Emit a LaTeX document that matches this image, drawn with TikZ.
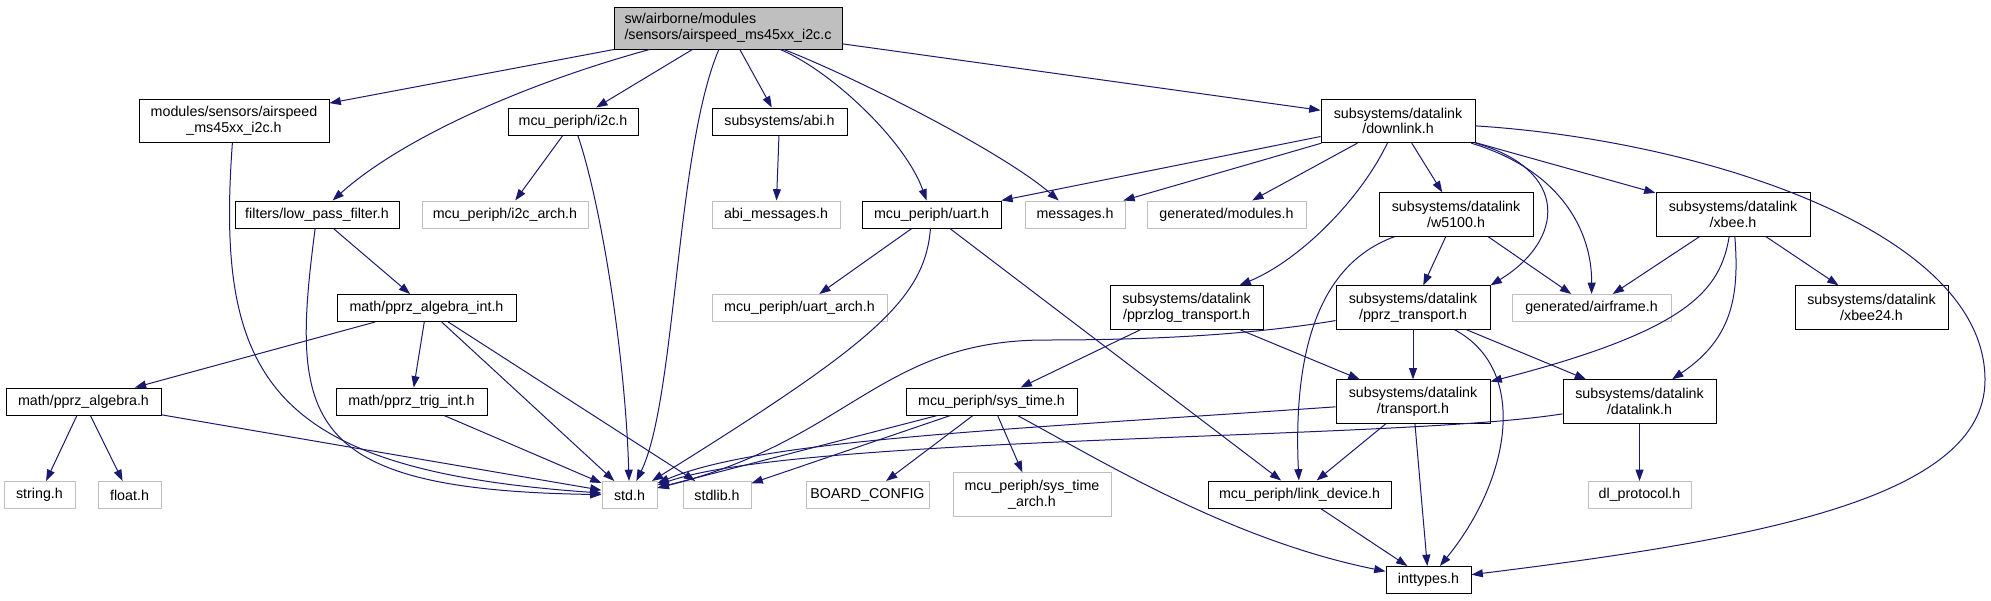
\documentclass[tikz,border=0pt]{standalone}
\usepackage{fontspec}
\setmainfont{Liberation Sans}
\usepackage{tikz}
\usetikzlibrary{arrows.meta}
\definecolor{edgeBlue}{HTML}{191970}
\definecolor{extGray}{HTML}{BFBFBF}
\tikzset{
    fileBox/.style={draw=black, fill=white, line width=0.75pt, inner sep=1pt,
                    minimum height=20.25pt, align=center,
                    font=\fontsize{10.7}{11.8}\selectfont},
    twoLine/.style={minimum height=32.5pt},
    extBox/.style={fileBox, draw=extGray},
    rootBox/.style={fileBox, fill=extGray, align=left, minimum height=31.5pt},
    incl/.style={-{Triangle[length=8.5pt,width=6pt]}, draw=edgeBlue,
                 line width=0.75pt},
}

\begin{document}
\begin{tikzpicture}[x=0.75pt, y=-0.75pt]
\useasboundingbox (0,0) rectangle (1991,600);

% =======================  top rows  =======================
\node[rootBox, minimum width=171pt] (srcC) at (728,28)
     {sw/airborne/modules\\/sensors/airspeed\_ms45xx\_i2c.c};

\node[fileBox, twoLine, minimum width=142.5pt] (msH) at (234,121)
     {modules/sensors/airspeed\\\_ms45xx\_i2c.h};
\node[fileBox, minimum width=97.5pt] (i2cH) at (573,121.5) {mcu\_periph/i2c.h};
\node[fileBox, minimum width=101.25pt] (abiH) at (779.5,121.5) {subsystems/abi.h};
\node[fileBox, twoLine, minimum width=115.5pt] (downlinkH) at (1398,121)
     {subsystems/datalink\\/downlink.h};

\node[fileBox, minimum width=123pt] (lpfH) at (317,214.5) {filters/low\_pass\_filter.h};
\node[extBox, minimum width=124.5pt] (i2cArch) at (505,214.5) {mcu\_periph/i2c\_arch.h};
\node[extBox, minimum width=96pt] (abiMsg) at (776,214.5) {abi\_messages.h};
\node[fileBox, minimum width=104.25pt] (uartH) at (931.5,214.5) {mcu\_periph/uart.h};
\node[extBox, minimum width=75pt] (messagesH) at (1075,214.5) {messages.h};
\node[extBox, minimum width=119.25pt] (modulesH) at (1226.5,214.5) {generated/modules.h};
\node[fileBox, twoLine, minimum width=115.5pt] (w5100H) at (1456,214.5)
     {subsystems/datalink\\/w5100.h};
\node[fileBox, twoLine, minimum width=115.5pt] (xbeeH) at (1733,214.5)
     {subsystems/datalink\\/xbee.h};

% =======================  middle rows  =======================
\node[fileBox, minimum width=134.25pt] (algIntH) at (426.5,308) {math/pprz\_algebra\_int.h};
\node[extBox, minimum width=131.25pt] (uartArch) at (799.5,308) {mcu\_periph/uart\_arch.h};
\node[fileBox, twoLine, minimum width=114.75pt] (pprzlogH) at (1186.5,307.5)
     {subsystems/datalink\\/pprzlog\_transport.h};
\node[fileBox, twoLine, minimum width=115.5pt] (pprzTrH) at (1413,307.5)
     {subsystems/datalink\\/pprz\_transport.h};
\node[extBox, minimum width=119.25pt] (airframeH) at (1591.5,308) {generated/airframe.h};
\node[fileBox, twoLine, minimum width=114.75pt] (xbee24H) at (1871.5,307.5)
     {subsystems/datalink\\/xbee24.h};

\node[fileBox, minimum width=116.25pt] (algH) at (83.5,401.5) {math/pprz\_algebra.h};
\node[fileBox, minimum width=113.25pt] (trigIntH) at (411.5,401.5) {math/pprz\_trig\_int.h};
\node[fileBox, minimum width=128.25pt] (sysTimeH) at (991.5,401.5) {mcu\_periph/sys\_time.h};
\node[fileBox, twoLine, minimum width=115.5pt] (transportH) at (1413,401.5)
     {subsystems/datalink\\/transport.h};
\node[fileBox, twoLine, minimum width=114.75pt] (datalinkH) at (1639.5,401.5)
     {subsystems/datalink\\/datalink.h};

% =======================  bottom rows  =======================
\node[extBox, minimum width=53.25pt] (stringH) at (39.5,495) {string.h};
\node[extBox, minimum width=47.25pt] (floatH) at (129.5,495) {float.h};
\node[extBox, minimum width=41.25pt] (stdH) at (629.5,495) {std.h};
\node[extBox, minimum width=51pt] (stdlibH) at (717,495) {stdlib.h};
\node[extBox, minimum width=92.25pt] (boardCfg) at (867.5,495) {BOARD\_CONFIG};
\node[extBox, twoLine, minimum width=118.5pt] (sysTimeArch) at (1032,494.5)
     {mcu\_periph/sys\_time\\\_arch.h};
\node[fileBox, minimum width=137.25pt] (linkDevH) at (1299.5,494.5) {mcu\_periph/link\_device.h};
\node[extBox, minimum width=77.25pt] (dlProtoH) at (1639.5,495) {dl\_protocol.h};
\node[fileBox, minimum width=63.75pt] (inttypesH) at (1428.5,580) {inttypes.h};

% =======================  includes  =======================
% source file
\draw[incl] (srcC) -- (msH);
\draw[incl] (srcC) .. controls (520,85) and (400,140) .. (lpfH);
\draw[incl] (srcC) -- (i2cH);
\draw[incl] (srcC) .. controls (676,150) and (676,400) .. (stdH);
\draw[incl] (srcC) -- (abiH);
\draw[incl] (srcC) .. controls (830,70) and (905,140) .. (uartH);
\draw[incl] (srcC) .. controls (850,75) and (1000,150) .. (messagesH);
\draw[incl] (srcC) -- (downlinkH);

% sensor header, filter, i2c, abi
\draw[incl] (msH) .. controls (215,380) and (270,470) .. (stdH);
\draw[incl] (i2cH) -- (i2cArch);
\draw[incl] (i2cH) .. controls (600,200) and (625,350) .. (stdH);
\draw[incl] (lpfH) -- (algIntH);
\draw[incl] (lpfH) .. controls (290,420) and (300,490) .. (stdH);
\draw[incl] (abiH) -- (abiMsg);

% downlink
\draw[incl] (downlinkH) -- (uartH);
\draw[incl] (downlinkH) -- (messagesH);
\draw[incl] (downlinkH) -- (modulesH);
\draw[incl] (downlinkH) .. controls (1360,200) and (1300,260) .. (pprzlogH);
\draw[incl] (downlinkH) -- (w5100H);
\draw[incl] (downlinkH) .. controls (1570,170) and (1565,240) .. (pprzTrH.north east);
\draw[incl] (downlinkH) .. controls (1560,170) and (1592,230) .. (airframeH);
\draw[incl] (downlinkH) -- (xbeeH);
\draw[incl] (downlinkH) .. controls (1700,140) and (1985,230) .. (1985,380)
                         .. controls (1985,500) and (1750,540) .. (inttypesH);

% uart
\draw[incl] (uartH) -- (uartArch);
\draw[incl] (uartH) .. controls (925,300) and (870,345) .. (stdH);
\draw[incl] (uartH) -- (linkDevH);

% algebra
\draw[incl] (algIntH) -- (algH);
\draw[incl] (algIntH) -- (trigIntH);
\draw[incl] (algIntH) -- (stdH);
\draw[incl] (algIntH) -- (stdlibH);
\draw[incl] (algH) -- (stringH);
\draw[incl] (algH) -- (floatH);
\draw[incl] (algH) -- (stdH);
\draw[incl] (trigIntH) -- (stdH);

% w5100 / xbee
\draw[incl] (w5100H) -- (pprzTrH);
\draw[incl] (w5100H) -- (airframeH);
\draw[incl] (w5100H) .. controls (1330,260) and (1292,330) .. (linkDevH);
\draw[incl] (xbeeH) -- (airframeH);
\draw[incl] (xbeeH) -- (xbee24H);
\draw[incl] (xbeeH) .. controls (1720,290) and (1690,330) .. (transportH);
\draw[incl] (xbeeH) .. controls (1740,300) and (1730,340) .. (datalinkH);

% transports
\draw[incl] (pprzlogH) -- (sysTimeH);
\draw[incl] (pprzlogH) -- (transportH);
\draw[incl] (pprzTrH) .. controls (1250,335) and (1150,340) .. (1046,340)
                       .. controls (880,340) and (850,440) .. (stdH);
\draw[incl] (pprzTrH) -- (transportH);
\draw[incl] (pprzTrH) -- (datalinkH);
\draw[incl] (pprzTrH) .. controls (1530,370) and (1510,480) .. (inttypesH);

% sys_time
\draw[incl] (sysTimeH) -- (stdH);
\draw[incl] (sysTimeH) -- (stdlibH);
\draw[incl] (sysTimeH) -- (boardCfg);
\draw[incl] (sysTimeH) -- (sysTimeArch);
\draw[incl] (sysTimeH) .. controls (1100,460) and (1230,540) .. (inttypesH);

% transport, datalink, link_device
\draw[incl] (transportH) .. controls (1000,430) and (760,440) .. (stdH);
\draw[incl] (transportH) -- (linkDevH);
\draw[incl] (transportH) -- (inttypesH);
\draw[incl] (datalinkH) .. controls (1400,440) and (800,435) .. (stdH);
\draw[incl] (datalinkH) -- (dlProtoH);
\draw[incl] (linkDevH) -- (inttypesH);

\end{tikzpicture}
\end{document}
